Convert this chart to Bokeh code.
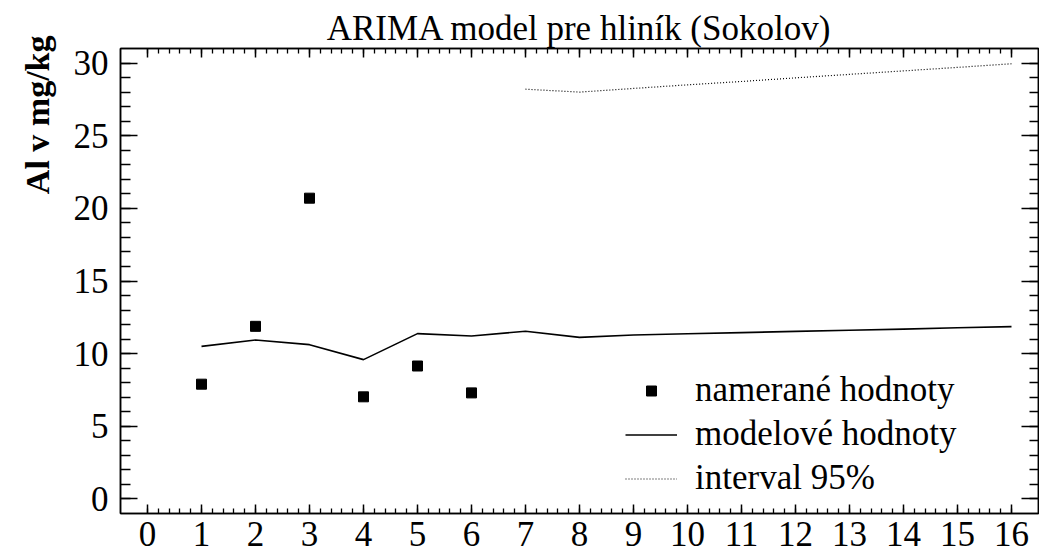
from bokeh.embed import file_html
from bokeh.models import (ColumnDataSource, CustomJSTickFormatter, FixedTicker,
                          Legend, LegendItem, LinearAxis, Range1d, Title)
from bokeh.plotting import figure
from bokeh.resources import INLINE

# measured aluminium content (mg/kg)
obs_t = [1, 2, 3, 4, 5, 6]
obs_al = [7.9, 11.88, 20.7, 7.03, 9.15, 7.3]

# ARIMA fitted values and forecast
model_t = list(range(1, 17))
model_al = [10.5, 10.94, 10.62, 9.59, 11.38, 11.22, 11.54, 11.12,
            11.28, 11.37, 11.45, 11.53, 11.61, 11.69, 11.78, 11.86]

# upper bound of the 95 % forecast interval
upper_t = list(range(7, 17))
upper_al = [28.2, 28.0, 28.25, 28.5, 28.73, 28.98, 29.22, 29.46, 29.7, 29.95]

x_ticks = list(range(0, 17))
y_ticks = list(range(0, 31, 5))

title_text = "ARIMA model pre hliník (Sokolov)"
y_title = "Al v mg/kg"
legend_labels = ["nameran\u00e9 hodnoty", "modelov\u00e9 hodnoty", "interval 95%"]

FONT = "Liberation Serif"
FS = "35px"

p = figure(width=1039, height=555, output_backend="svg", toolbar_location=None,
           x_range=Range1d(-0.5, 16.5), y_range=Range1d(-1, 31),
           x_axis_location=None, y_axis_location=None,
           min_border_left=120, min_border_right=1,
           min_border_top=48, min_border_bottom=42)
p.xgrid.visible = False
p.ygrid.visible = False
p.outline_line_color = "black"
p.outline_line_width = 1.5
p.background_fill_color = "white"
p.border_fill_color = "white"

p.title.text = title_text
p.title.align = "center"
p.title.text_font = FONT
p.title.text_font_size = FS
p.title.text_font_style = "normal"
p.title.text_color = "black"
p.title.standoff = 2

x_minor = [i / 5 for i in range(0, 81)]
y_minor = list(range(0, 31))


def make_axis(ticks, minor, major_len, minor_len, show_labels):
    ax = LinearAxis(ticker=FixedTicker(ticks=ticks, minor_ticks=minor))
    ax.major_tick_in = major_len
    ax.major_tick_out = 0
    ax.minor_tick_in = minor_len
    ax.minor_tick_out = 0
    ax.axis_line_color = "black"
    ax.axis_line_width = 1.5
    ax.major_tick_line_color = "black"
    ax.major_tick_line_width = 1.5
    ax.minor_tick_line_color = "black"
    ax.minor_tick_line_width = 1.3
    if show_labels:
        ax.major_label_text_font = FONT
        ax.major_label_text_font_size = FS
        ax.major_label_text_color = "black"
    else:
        ax.formatter = CustomJSTickFormatter(code="return ''")
        ax.major_label_text_font_size = "0px"
        ax.major_label_standoff = 0
    return ax


bottom = make_axis(x_ticks, x_minor, 9, 5, True)
bottom.major_label_standoff = 8
top = make_axis(x_ticks, x_minor, 9, 5, False)
left = make_axis(y_ticks, y_minor, 17, 10, True)
left.major_label_standoff = 12
right = make_axis(y_ticks, y_minor, 17, 9, False)

p.add_layout(bottom, "below")
p.add_layout(top, "above")
p.add_layout(left, "left")
p.add_layout(right, "right")

# vertical axis title, set at the upper end of the axis
p.add_layout(Title(text=y_title, align="right", text_font=FONT,
                   text_font_size="34px", text_font_style="bold",
                   text_color="black", standoff=30, offset=-13), "left")

obs_src = ColumnDataSource(dict(t=obs_t, al=obs_al))
model_src = ColumnDataSource(dict(t=model_t, al=model_al))
upper_src = ColumnDataSource(dict(t=upper_t, al=upper_al))

r_upper = p.line("t", "al", source=upper_src, line_color="black",
                 line_width=1.2, line_dash="1 2")
r_model = p.line("t", "al", source=model_src, line_color="black", line_width=1.6)
r_obs = p.scatter("t", "al", source=obs_src, marker="square", size=10,
                  fill_color="black", line_color="black")

legend = Legend(
    items=[LegendItem(label=legend_labels[0], renderers=[r_obs]),
           LegendItem(label=legend_labels[1], renderers=[r_model]),
           LegendItem(label=legend_labels[2], renderers=[r_upper])],
    location=(505, 13), orientation="vertical",
    border_line_color=None, background_fill_alpha=0,
    padding=0, margin=0, spacing=0,
    glyph_width=52, glyph_height=25, label_height=44, label_standoff=18,
    label_text_font=FONT, label_text_font_size=FS, label_text_color="black",
)
p.add_layout(legend)

open("out.html", "w").write(file_html(p, INLINE))
